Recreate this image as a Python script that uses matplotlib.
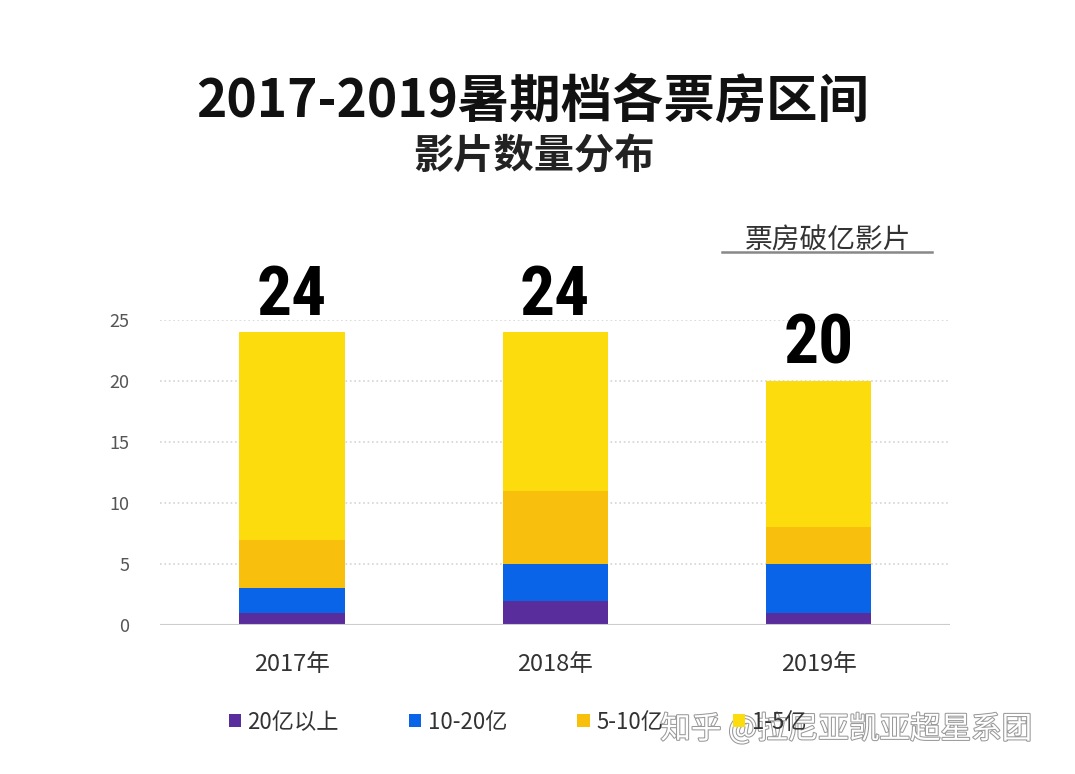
import matplotlib.pyplot as plt
import matplotlib.patheffects as pe
import numpy as np

plt.rcParams['font.family'] = ['Noto Sans CJK SC', 'DejaVu Sans']

# 数据
years = ['2017年', '2018年', '2019年']
series = ['20亿以上', '10-20亿', '5-10亿', '1-5亿']
above_20 = [1, 2, 1]
from_10_20 = [2, 3, 4]
from_5_10 = [4, 6, 3]
from_1_5 = [17, 13, 12]
totals = ['24', '24', '20']
yticks = [0, 5, 10, 15, 20, 25]

colors = ['#5a2d9c', '#0a64e8', '#f8bf0c', '#fcdc0c']

fig = plt.figure(figsize=(10.75, 7.74), dpi=100)
ax = fig.add_axes([0.149, 0.1925, 0.735, 0.394])

x = np.arange(len(years))
bottom = np.zeros(len(years))
handles = []
for vals, col, name in zip([above_20, from_10_20, from_5_10, from_1_5], colors, series):
    b = ax.bar(x, vals, 0.4, bottom=bottom, color=col, label=name, zorder=3)
    handles.append(b)
    bottom += np.array(vals)

# 柱顶数字
num_font = ['Roboto Condensed', 'Liberation Sans Narrow', 'DejaVu Sans Condensed', 'Liberation Sans']
for xi, top, lab in zip(x, bottom, totals):
    ax.text(xi, top + 1.4, lab, ha='center', va='baseline', fontsize=50,
            fontweight='bold', fontstretch='condensed', color='black',
            family=num_font)

ax.set_xlim(-0.5, 2.5)
ax.set_ylim(0, 25)
ax.set_yticks(yticks)
ax.set_yticklabels([str(t) for t in yticks], fontsize=13, color='#555555')
ax.set_xticks(x)
ax.set_xticklabels(years, fontsize=17, color='#333333')
ax.tick_params(length=0, axis='y', pad=22)
ax.tick_params(length=0, axis='x', pad=20)
for t in yticks[1:]:
    ax.axhline(t, color='#d4d4d4', lw=1.2, ls=':', zorder=1)
ax.axhline(0, color='#cccccc', lw=1.5, zorder=4)
for s in ax.spines.values():
    s.set_visible(False)

# 图例
fig.legend(handles=handles, labels=series, loc='center left', bbox_to_anchor=(0.194, 0.067),
           ncol=4, frameon=False, fontsize=16, handlelength=0.55, handleheight=0.55,
           handletextpad=0.3, columnspacing=3.15, labelcolor='#333333')

# 标题
fig.text(0.495, 0.868, '2017-2019暑期档各票房区间', ha='center', va='center',
         fontsize=37, fontweight='bold', color='#111111')
fig.text(0.497, 0.799, '影片数量分布', ha='center', va='center',
         fontsize=29, fontweight='bold', color='#222222')

# 右上角注释
fig.text(0.77, 0.690, '票房破亿影片', ha='center', va='center',
         fontsize=20, color='#333333')
fig.add_artist(plt.Line2D([0.672, 0.867], [0.674, 0.674], color='#888888', lw=1.8))

# 水印
fig.text(0.787, 0.058, '知乎 @拉尼亚凯亚超星系团', ha='center', va='center',
         fontsize=22, color='white',
         path_effects=[pe.withStroke(linewidth=1.5, foreground='#999999')])

fig.savefig('out.png', dpi=100, facecolor='white')
